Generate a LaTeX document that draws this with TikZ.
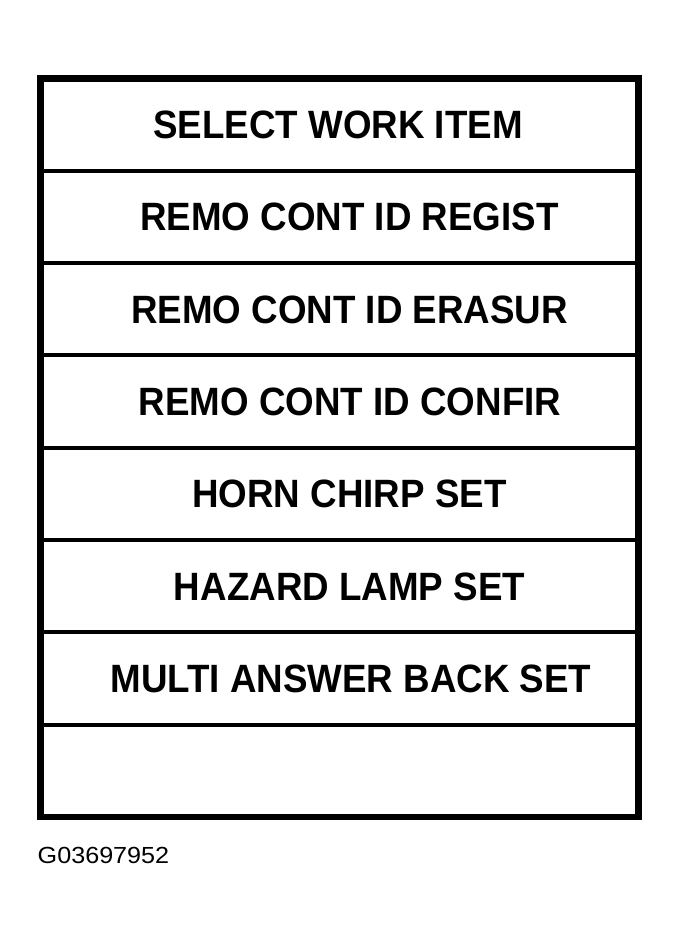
\documentclass[tikz,border=0pt]{standalone}
\usepackage{fontspec}
\setmainfont{Liberation Sans}
\newfontfamily\rowfont{Liberation Sans}[FakeStretch=0.93]
\newfontfamily\codefont{Liberation Sans}[FakeStretch=1.08]
\begin{document}
\begin{tikzpicture}[x=1bp,y=-1bp,
  rowtext/.style={anchor=base,inner sep=0pt,font=\rowfont\bfseries\fontsize{39.5bp}{40bp}\selectfont},
  divider/.style={line width=4bp},
  frameline/.style={line width=6.5bp}]
\useasboundingbox (0,0) rectangle (679,940);
\def\top{78.5}
\def\rowh{92.3125}
% dividers
\foreach \k in {1,...,7}{
  \coordinate (dl\k) at (40.3,{\top+\k*\rowh});
  \coordinate (dr\k) at (638.3,{\top+\k*\rowh});
  \draw[divider] (dl\k) -- (dr\k);
}
% frame
\coordinate (ftl) at (40.3,78.5);
\coordinate (fbr) at (638.3,817);
\draw[frameline] (ftl) rectangle (fbr);
% texts
\node[rowtext] (r1) at (338,{\top+0.5*\rowh+14}) {SELECT WORK ITEM};
\node[rowtext] (r2) at (349.5,{\top+1.5*\rowh+14}) {REMO CONT ID REGIST};
\node[rowtext] (r3) at (349.5,{\top+2.5*\rowh+14}) {REMO CONT ID ERASUR};
\node[rowtext] (r4) at (350,{\top+3.5*\rowh+14}) {REMO CONT ID CONFIR};
\node[rowtext] (r5) at (349.5,{\top+4.5*\rowh+14}) {HORN CHIRP SET};
\node[rowtext] (r6) at (349.5,{\top+5.5*\rowh+14}) {HAZARD LAMP SET};
\node[rowtext] (r7) at (351,{\top+6.5*\rowh+14}) {MULTI ANSWER BACK SET};
\node[anchor=base west,inner sep=0pt,font=\codefont\fontsize{23.3bp}{24bp}\selectfont] (code) at (37.5,863.3) {G03697952};
\end{tikzpicture}
\end{document}
